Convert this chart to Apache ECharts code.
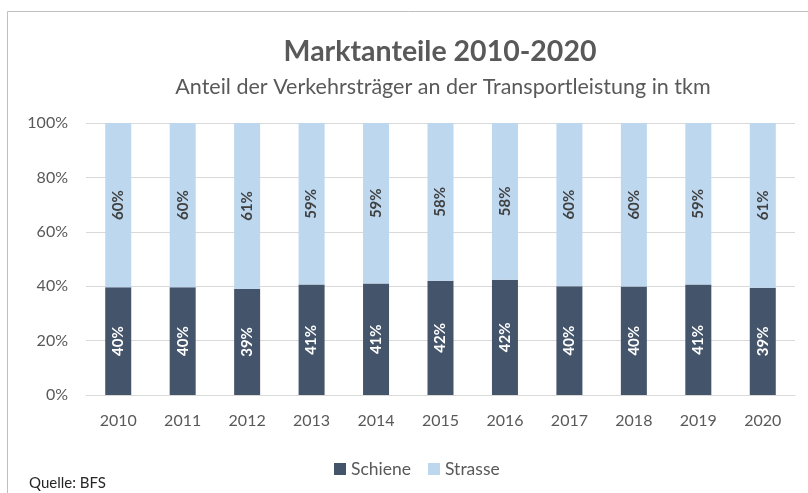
<!DOCTYPE html>
<html>
<head>
<meta charset="utf-8">
<script src="https://cdn.jsdelivr.net/npm/echarts@6/dist/echarts.min.js"></script>
<style>
  html, body { margin: 0; padding: 0; background: #fff; }
  #main { width: 808px; height: 493px; }
</style>
</head>
<body>
<div id="main"></div>
<script>
    var years = ['2010', '2011', '2012', '2013', '2014', '2015', '2016', '2017', '2018', '2019', '2020'];
    // Anteile in Prozent
    var schiene = [39.6, 39.6, 39.0, 40.6, 41.0, 42.0, 42.4, 40.0, 39.9, 40.6, 39.4];
    var strasse = [60.4, 60.4, 61.0, 59.4, 59.0, 58.0, 57.6, 60.0, 60.1, 59.4, 60.6];
    var yTicks = [0, 20, 40, 60, 80, 100];

    var myChart = echarts.init(document.getElementById('main'));
    var font = 'Lato, "Open Sans", sans-serif';

    var option = {
        textStyle: { fontFamily: font },
        animation: false,
        title: [
            {
                text: 'Marktanteile 2010-2020',
                left: 435, top: 32, textAlign: 'center',
                textStyle: { fontFamily: font, fontSize: 28.5, fontWeight: 'bold', color: '#595959' }
            },
            {
                text: 'Anteil der Verkehrsträger an der Transportleistung in tkm',
                left: 438, top: 71, textAlign: 'center',
                textStyle: { fontFamily: font, fontSize: 21.5, fontWeight: 'normal', color: '#595959' }
            },
            {
                text: 'Quelle: BFS',
                left: 24, top: 471,
                textStyle: { fontFamily: font, fontSize: 15, fontWeight: 'normal', color: '#262626' }
            }
        ],
        graphic: [
            {
                type: 'rect',
                shape: { x: 7.5, y: 11.5, width: 900, height: 600 },
                style: { fill: 'none', stroke: '#bfbfbf', lineWidth: 1 }
            }
        ],
        legend: {
            data: ['Schiene', 'Strasse'],
            left: 329, top: 455,
            itemWidth: 12, itemHeight: 12, itemGap: 17,
            icon: 'rect',
            textStyle: { fontFamily: font, fontSize: 17.5, color: '#595959' }
        },
        grid: { left: 86, right: 13, top: 123, bottom: 98, containLabel: false },
        xAxis: {
            type: 'category',
            data: years,
            axisLine: { show: true, lineStyle: { color: '#d9d9d9' } },
            axisTick: { show: false },
            axisLabel: { fontFamily: font, fontSize: 16, color: '#595959', margin: 18 }
        },
        yAxis: {
            type: 'value',
            min: yTicks[0], max: yTicks[yTicks.length - 1], interval: 20,
            axisLine: { show: false },
            axisTick: { show: false },
            splitLine: { lineStyle: { color: '#d9d9d9', width: 1 } },
            axisLabel: { fontFamily: font, fontSize: 16, color: '#595959', margin: 18, formatter: '{value}%' }
        },
        series: [
            {
                name: 'Schiene',
                type: 'bar',
                stack: 'total',
                barWidth: 26,
                data: schiene,
                itemStyle: { color: '#44546a' },
                label: {
                    show: true, position: 'inside', rotate: 90,
                    fontFamily: font, fontSize: 15, fontWeight: 'bold', color: '#ffffff',
                    formatter: function (p) { return Math.round(p.value) + '%'; }
                }
            },
            {
                name: 'Strasse',
                type: 'bar',
                stack: 'total',
                barWidth: 26,
                data: strasse,
                itemStyle: { color: '#bdd7ee' },
                label: {
                    show: true, position: 'inside', rotate: 90,
                    fontFamily: font, fontSize: 15, fontWeight: 'bold', color: '#404040',
                    formatter: function (p) { return Math.round(p.value) + '%'; }
                }
            }
        ]
    };

    myChart.setOption(option);
</script>
</body>
</html>
